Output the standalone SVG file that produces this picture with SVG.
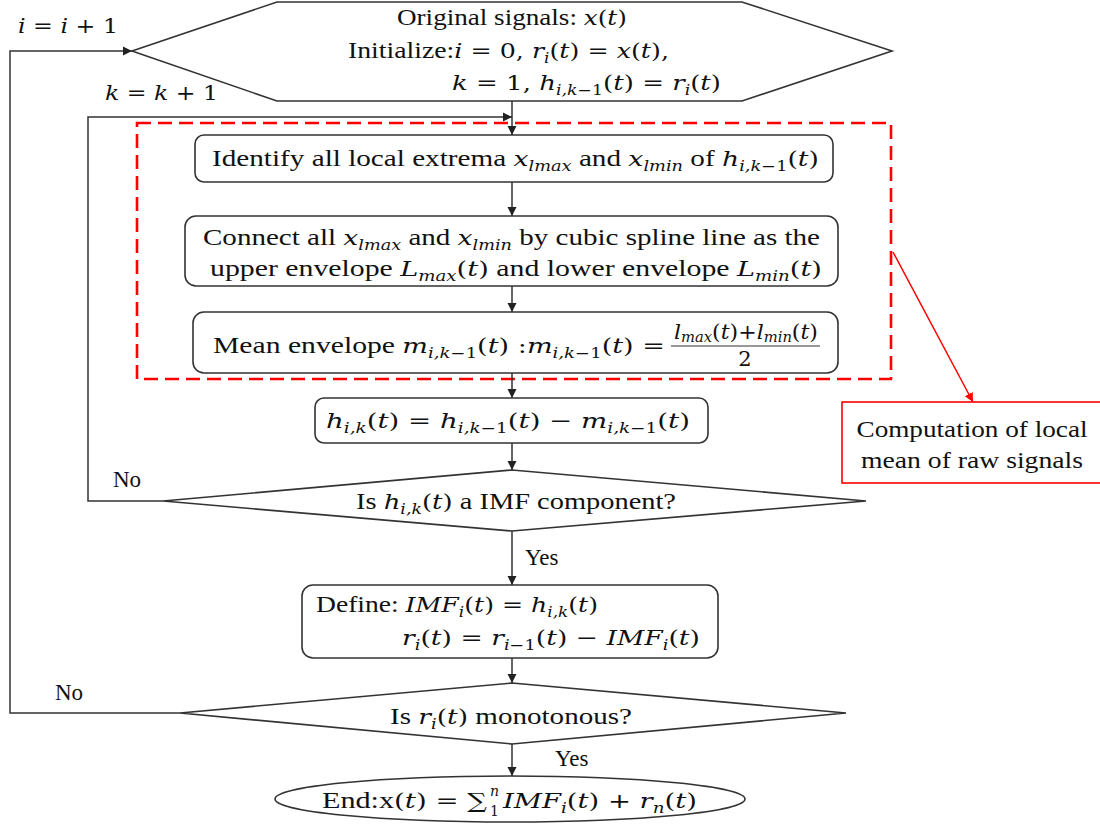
<svg xmlns="http://www.w3.org/2000/svg" width="1100" height="827" viewBox="0 0 1100 827">
<defs>
<style>
.tx{font-family:"Liberation Serif","Times New Roman",serif;font-size:23px;fill:#111}
.m{font-family:"DejaVu Serif",serif;font-size:21px;font-style:normal}
.mi{font-family:"DejaVu Serif",serif;font-size:21px;font-style:italic}
.ms{font-family:"DejaVu Serif",serif;font-size:14px;font-style:italic}
.mn{font-family:"DejaVu Serif",serif;font-size:14px;font-style:normal}
.box{fill:#fff;stroke:#333;stroke-width:1.6}
.ln{fill:none;stroke:#333;stroke-width:1.5}
.rd{fill:none;stroke:#ff0000;stroke-width:1.5}
</style>
<marker id="ah" markerUnits="userSpaceOnUse" markerWidth="10" markerHeight="10" refX="9" refY="4.5" orient="auto" viewBox="0 0 10 9"><path d="M0,0 L9,4.5 L0,9 z" fill="#222"/></marker>
<marker id="ahr" markerUnits="userSpaceOnUse" markerWidth="10" markerHeight="10" refX="9" refY="4.5" orient="auto" viewBox="0 0 10 9"><path d="M0,0 L9,4.5 L0,9 z" fill="#ff0000"/></marker>
</defs>
<rect width="1100" height="827" fill="#fff"/>

<g id="local-mean-frame">
<rect x="137" y="123" width="754" height="256" fill="none" stroke="#ff0000" stroke-width="2.6" stroke-dasharray="14 7"/>
</g>

<g id="connectors">
<path class="ln" d="M512,101 V135" marker-end="url(#ah)"/>
<path class="ln" d="M512,182 V216" marker-end="url(#ah)"/>
<path class="ln" d="M512,286 V312" marker-end="url(#ah)"/>
<path class="ln" d="M512,373 V398" marker-end="url(#ah)"/>
<path class="ln" d="M512,443 V470" marker-end="url(#ah)"/>
<path class="ln" d="M512,531 V585" marker-end="url(#ah)"/>
<path class="ln" d="M512,658 V683" marker-end="url(#ah)"/>
<path class="ln" d="M512,744 V776" marker-end="url(#ah)"/>
<path class="ln" d="M180,713 H10 V51 H132" marker-end="url(#ah)"/>
<path class="ln" d="M163,501 H88 V117 H512" marker-end="url(#ah)"/>
<path class="rd" d="M893,252 L973,402" marker-end="url(#ahr)"/>
<text class="tx" x="18" y="33" textLength="100" lengthAdjust="spacingAndGlyphs"><tspan class="mi">i</tspan><tspan class="m"> = </tspan><tspan class="mi">i</tspan><tspan class="m"> + 1</tspan></text>
<text class="tx" x="105" y="100" textLength="113" lengthAdjust="spacingAndGlyphs"><tspan class="mi">k</tspan><tspan class="m"> = </tspan><tspan class="mi">k</tspan><tspan class="m"> + 1</tspan></text>
<text class="tx" x="113" y="487">No</text>
<text class="tx" x="525" y="565">Yes</text>
<text class="tx" x="55" y="700">No</text>
<text class="tx" x="555" y="766">Yes</text>
</g>

<g id="start">
<polygon class="box" points="132,51 277,2 742,2 892,51 742,101 277,101"/>
<text class="tx" x="397" y="25" textLength="230" lengthAdjust="spacingAndGlyphs">Original  signals:  <tspan class="mi">x</tspan><tspan class="m">(</tspan><tspan class="mi">t</tspan><tspan class="m">)</tspan></text>
<text class="tx" x="348" y="58" textLength="321" lengthAdjust="spacingAndGlyphs">Initialize:<tspan class="mi">i</tspan><tspan class="m"> = 0, </tspan><tspan class="mi">r</tspan><tspan class="ms" dy="5">i</tspan><tspan class="m" dy="-5">(</tspan><tspan class="mi">t</tspan><tspan class="m">) = </tspan><tspan class="mi">x</tspan><tspan class="m">(</tspan><tspan class="mi">t</tspan><tspan class="m">),</tspan></text>
<text class="tx" x="452" y="90" textLength="269" lengthAdjust="spacingAndGlyphs"><tspan class="mi">k</tspan><tspan class="m"> = 1, </tspan><tspan class="mi">h</tspan><tspan class="ms" dy="5">i,k</tspan><tspan class="mn">−1</tspan><tspan class="m" dy="-5">(</tspan><tspan class="mi">t</tspan><tspan class="m">) = </tspan><tspan class="mi">r</tspan><tspan class="ms" dy="5">i</tspan><tspan class="m" dy="-5">(</tspan><tspan class="mi">t</tspan><tspan class="m">)</tspan></text>
</g>

<g id="identify-extrema">
<rect class="box" x="195" y="135" width="638" height="47" rx="9"/>
<text class="tx" x="212" y="166" textLength="607" lengthAdjust="spacingAndGlyphs">Identify all local extrema <tspan class="mi">x</tspan><tspan class="ms" dy="5">lmax</tspan><tspan dy="-5"> and </tspan><tspan class="mi">x</tspan><tspan class="ms" dy="5">lmin</tspan><tspan dy="-5"> of </tspan><tspan class="mi">h</tspan><tspan class="ms" dy="5">i,k</tspan><tspan class="mn">−1</tspan><tspan class="m" dy="-5">(</tspan><tspan class="mi">t</tspan><tspan class="m">)</tspan></text>
</g>

<g id="envelopes">
<rect class="box" x="185" y="216" width="653" height="70" rx="11"/>
<text class="tx" x="203" y="245" textLength="617" lengthAdjust="spacingAndGlyphs">Connect all <tspan class="mi">x</tspan><tspan class="ms" dy="5">lmax</tspan><tspan dy="-5"> and </tspan><tspan class="mi">x</tspan><tspan class="ms" dy="5">lmin</tspan><tspan dy="-5"> by cubic spline line as the</tspan></text>
<text class="tx" x="210" y="276" textLength="612" lengthAdjust="spacingAndGlyphs">upper envelope <tspan class="mi">L</tspan><tspan class="ms" dy="5">max</tspan><tspan class="m" dy="-5">(</tspan><tspan class="mi">t</tspan><tspan class="m">)</tspan> and lower envelope <tspan class="mi">L</tspan><tspan class="ms" dy="5">min</tspan><tspan class="m" dy="-5">(</tspan><tspan class="mi">t</tspan><tspan class="m">)</tspan></text>
</g>

<g id="mean-envelope">
<rect class="box" x="193" y="312" width="645" height="61" rx="11"/>
<text class="tx" x="213" y="353" textLength="452" lengthAdjust="spacingAndGlyphs">Mean envelope <tspan class="mi">m</tspan><tspan class="ms" dy="5">i,k</tspan><tspan class="mn">−1</tspan><tspan class="m" dy="-5">(</tspan><tspan class="mi">t</tspan><tspan class="m">) :</tspan><tspan class="mi">m</tspan><tspan class="ms" dy="5">i,k</tspan><tspan class="mn">−1</tspan><tspan class="m" dy="-5">(</tspan><tspan class="mi">t</tspan><tspan class="m">) =</tspan></text>
<text class="tx" x="674" y="339" textLength="144" lengthAdjust="spacingAndGlyphs"><tspan class="mi" font-size="15">l</tspan><tspan class="ms" font-size="11" dy="3">max</tspan><tspan class="m" font-size="15" dy="-3">(</tspan><tspan class="mi" font-size="15">t</tspan><tspan class="m" font-size="15">)+</tspan><tspan class="mi" font-size="15">l</tspan><tspan class="ms" font-size="11" dy="3">min</tspan><tspan class="m" font-size="15" dy="-3">(</tspan><tspan class="mi" font-size="15">t</tspan><tspan class="m" font-size="15">)</tspan></text>
<line x1="671" y1="346" x2="820" y2="346" stroke="#333" stroke-width="1.2"/>
<text class="m" font-size="15" x="745" y="366" text-anchor="middle" fill="#111">2</text>
</g>

<g id="update-h">
<rect class="box" x="315" y="398" width="393" height="45" rx="9"/>
<text class="tx" x="326" y="428" textLength="364" lengthAdjust="spacingAndGlyphs"><tspan class="mi">h</tspan><tspan class="ms" dy="5">i,k</tspan><tspan class="m" dy="-5">(</tspan><tspan class="mi">t</tspan><tspan class="m">) = </tspan><tspan class="mi">h</tspan><tspan class="ms" dy="5">i,k</tspan><tspan class="mn">−1</tspan><tspan class="m" dy="-5">(</tspan><tspan class="mi">t</tspan><tspan class="m">) − </tspan><tspan class="mi">m</tspan><tspan class="ms" dy="5">i,k</tspan><tspan class="mn">−1</tspan><tspan class="m" dy="-5">(</tspan><tspan class="mi">t</tspan><tspan class="m">)</tspan></text>
</g>

<g id="is-imf">
<polygon class="box" points="512,470 866,501 512,531 163,501"/>
<text class="tx" x="356" y="509" textLength="320" lengthAdjust="spacingAndGlyphs">Is <tspan class="mi">h</tspan><tspan class="ms" dy="5">i,k</tspan><tspan class="m" dy="-5">(</tspan><tspan class="mi">t</tspan><tspan class="m">)</tspan> a IMF component?</text>
</g>

<g id="define-imf">
<rect class="box" x="302" y="585" width="416" height="73" rx="11"/>
<text class="tx" x="316" y="612" textLength="282" lengthAdjust="spacingAndGlyphs">Define: <tspan class="mi">IMF</tspan><tspan class="ms" dy="5">i</tspan><tspan class="m" dy="-5">(</tspan><tspan class="mi">t</tspan><tspan class="m">) = </tspan><tspan class="mi">h</tspan><tspan class="ms" dy="5">i,k</tspan><tspan class="m" dy="-5">(</tspan><tspan class="mi">t</tspan><tspan class="m">)</tspan></text>
<text class="tx" x="402" y="645" textLength="298" lengthAdjust="spacingAndGlyphs"><tspan class="mi">r</tspan><tspan class="ms" dy="5">i</tspan><tspan class="m" dy="-5">(</tspan><tspan class="mi">t</tspan><tspan class="m">) = </tspan><tspan class="mi">r</tspan><tspan class="ms" dy="5">i</tspan><tspan class="mn">−1</tspan><tspan class="m" dy="-5">(</tspan><tspan class="mi">t</tspan><tspan class="m">) − </tspan><tspan class="mi">IMF</tspan><tspan class="ms" dy="5">i</tspan><tspan class="m" dy="-5">(</tspan><tspan class="mi">t</tspan><tspan class="m">)</tspan></text>
</g>

<g id="is-monotonous">
<polygon class="box" points="512,683 846,713 512,744 180,713"/>
<text class="tx" x="390" y="724" textLength="242" lengthAdjust="spacingAndGlyphs">Is <tspan class="mi">r</tspan><tspan class="ms" dy="5">i</tspan><tspan class="m" dy="-5">(</tspan><tspan class="mi">t</tspan><tspan class="m">)</tspan> monotonous?</text>
</g>

<g id="end">
<ellipse class="box" cx="510" cy="799" rx="235" ry="23"/>
<text class="tx" x="322" y="808" textLength="165" lengthAdjust="spacingAndGlyphs">End:x<tspan class="m">(</tspan><tspan class="mi">t</tspan><tspan class="m">) = ∑</tspan></text>
<text class="ms" font-size="13" x="490" y="796" fill="#111">n</text>
<text class="mn" font-size="13" x="490" y="816" fill="#111">1</text>
<text class="tx" x="503" y="808" textLength="194" lengthAdjust="spacingAndGlyphs"><tspan class="mi">IMF</tspan><tspan class="ms" dy="5">i</tspan><tspan class="m" dy="-5">(</tspan><tspan class="mi">t</tspan><tspan class="m">) + </tspan><tspan class="mi">r</tspan><tspan class="ms" dy="5">n</tspan><tspan class="m" dy="-5">(</tspan><tspan class="mi">t</tspan><tspan class="m">)</tspan></text>
</g>

<g id="note">
<rect x="842" y="402" width="270" height="81" fill="#fff" stroke="#ff0000" stroke-width="1.6"/>
<text class="tx" x="972" y="437" text-anchor="middle" font-size="26" textLength="231" lengthAdjust="spacingAndGlyphs">Computation of local</text>
<text class="tx" x="972" y="468" text-anchor="middle" font-size="26" textLength="222" lengthAdjust="spacingAndGlyphs">mean of raw signals</text>
</g>
</svg>
